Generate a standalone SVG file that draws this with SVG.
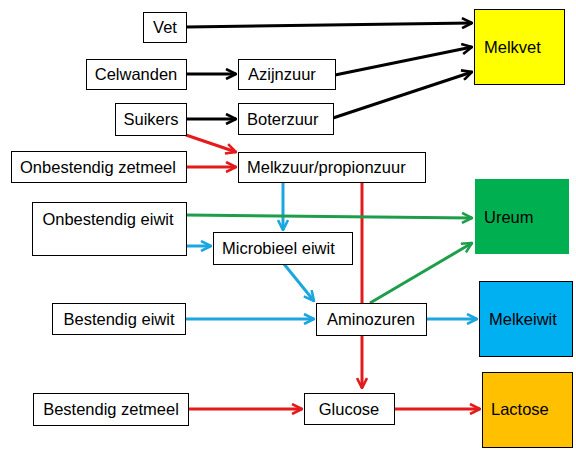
<svg xmlns="http://www.w3.org/2000/svg" width="576" height="460" viewBox="0 0 576 460">
<style>
.b{fill:#fff;stroke:#000;stroke-width:1}
.t{font-family:"Liberation Sans",Arial,sans-serif;font-size:16.5px;fill:#000}
.c{text-anchor:middle}
.k{stroke:#000;stroke-width:3;fill:none}
.r{stroke:#E41A1C;stroke-width:3;fill:none}
.u{stroke:#1BA6DF;stroke-width:3;fill:none}
.g{stroke:#1E9E4A;stroke-width:3;fill:none}
</style>
<defs>
<marker id="ak" viewBox="0 0 12 12" refX="11" refY="6" markerWidth="12" markerHeight="12" markerUnits="userSpaceOnUse" orient="auto"><path d="M1,1 L11,6 L1,11" fill="none" stroke="#000" stroke-width="2.6"/></marker>
<marker id="ar" viewBox="0 0 12 12" refX="11" refY="6" markerWidth="12" markerHeight="12" markerUnits="userSpaceOnUse" orient="auto"><path d="M1,1 L11,6 L1,11" fill="none" stroke="#E41A1C" stroke-width="2.6"/></marker>
<marker id="au" viewBox="0 0 12 12" refX="11" refY="6" markerWidth="12" markerHeight="12" markerUnits="userSpaceOnUse" orient="auto"><path d="M1,1 L11,6 L1,11" fill="none" stroke="#1BA6DF" stroke-width="2.6"/></marker>
<marker id="ag" viewBox="0 0 12 12" refX="11" refY="6" markerWidth="12" markerHeight="12" markerUnits="userSpaceOnUse" orient="auto"><path d="M1,1 L11,6 L1,11" fill="none" stroke="#1E9E4A" stroke-width="2.6"/></marker>
</defs>
<g id="connectors">
<line class="k" x1="186" y1="27" x2="472" y2="23" marker-end="url(#ak)"/>
<line class="k" x1="186" y1="74" x2="236" y2="74" marker-end="url(#ak)"/>
<line class="k" x1="335" y1="75" x2="472" y2="47" marker-end="url(#ak)"/>
<line class="k" x1="186" y1="119" x2="236" y2="119" marker-end="url(#ak)"/>
<line class="k" x1="333" y1="118" x2="472" y2="72" marker-end="url(#ak)"/>
<line class="r" x1="186" y1="135" x2="236" y2="152" marker-end="url(#ar)"/>
<line class="r" x1="186" y1="167" x2="236" y2="167" marker-end="url(#ar)"/>
<line class="r" x1="362" y1="182" x2="362" y2="388" marker-end="url(#ar)"/>
<line class="u" x1="283" y1="182" x2="283" y2="230" marker-end="url(#au)"/>
<line class="g" x1="186" y1="215" x2="472" y2="218" marker-end="url(#ag)"/>
<line class="u" x1="186" y1="246" x2="211" y2="246" marker-end="url(#au)"/>
<line class="u" x1="284" y1="264" x2="314" y2="301" marker-end="url(#au)"/>
<line class="g" x1="370" y1="303" x2="472" y2="243" marker-end="url(#ag)"/>
<line class="u" x1="185" y1="319" x2="314" y2="319" marker-end="url(#au)"/>
<line class="u" x1="426" y1="319" x2="477" y2="319" marker-end="url(#au)"/>
<line class="r" x1="188" y1="409" x2="302" y2="409" marker-end="url(#ar)"/>
<line class="r" x1="394" y1="409" x2="480" y2="409" marker-end="url(#ar)"/>
</g>
<g id="vet"><rect class="b" x="143.5" y="12.5" width="43" height="30"/><text class="t c" x="165" y="33">Vet</text></g>
<g id="celwanden"><rect class="b" x="86.5" y="59.5" width="100" height="30"/><text class="t c" x="136" y="80">Celwanden</text></g>
<g id="azijnzuur"><rect class="b" x="238.5" y="59.5" width="97" height="30"/><text class="t" x="248" y="80">Azijnzuur</text></g>
<g id="suikers"><rect class="b" x="115.5" y="103.5" width="71" height="32"/><text class="t c" x="151" y="125">Suikers</text></g>
<g id="boterzuur"><rect class="b" x="238.5" y="103.5" width="95" height="31"/><text class="t" x="247" y="125">Boterzuur</text></g>
<g id="melkvet"><rect x="474.5" y="9.5" width="90" height="75" fill="#FFFF00" stroke="#000" stroke-width="1"/><text class="t" x="484" y="53">Melkvet</text></g>
<g id="onbestendig-zetmeel"><rect class="b" x="11.5" y="151.5" width="175" height="31"/><text class="t c" x="98" y="173">Onbestendig zetmeel</text></g>
<g id="melkzuur"><rect class="b" x="238.5" y="152.5" width="187" height="30"/><text class="t" x="247" y="173">Melkzuur/propionzuur</text></g>
<g id="onbestendig-eiwit"><rect class="b" x="32.5" y="202.5" width="154" height="53"/><text class="t c" x="108" y="225">Onbestendig eiwit</text></g>
<g id="microbieel-eiwit"><rect class="b" x="213.5" y="232.5" width="139" height="32"/><text class="t" x="222" y="254">Microbieel eiwit</text></g>
<g id="ureum"><rect x="475" y="179" width="94" height="75" fill="#00B050"/><text class="t" x="484" y="223">Ureum</text></g>
<g id="bestendig-eiwit"><rect class="b" x="52.5" y="303.5" width="133" height="31"/><text class="t c" x="119" y="325">Bestendig eiwit</text></g>
<g id="aminozuren"><rect class="b" x="316.5" y="303.5" width="110" height="32"/><text class="t c" x="371" y="325">Aminozuren</text></g>
<g id="melkeiwit"><rect x="479.5" y="281.5" width="93" height="75" fill="#00B0F0" stroke="#000" stroke-width="1"/><text class="t" x="489" y="325">Melkeiwit</text></g>
<g id="bestendig-zetmeel"><rect class="b" x="33.5" y="393.5" width="155" height="32"/><text class="t c" x="111" y="415">Bestendig zetmeel</text></g>
<g id="glucose"><rect class="b" x="304.5" y="393.5" width="90" height="31"/><text class="t c" x="349" y="415">Glucose</text></g>
<g id="lactose"><rect x="482.5" y="372.5" width="90" height="75" fill="#FFC000" stroke="#000" stroke-width="1"/><text class="t" x="491" y="415">Lactose</text></g>
</svg>
